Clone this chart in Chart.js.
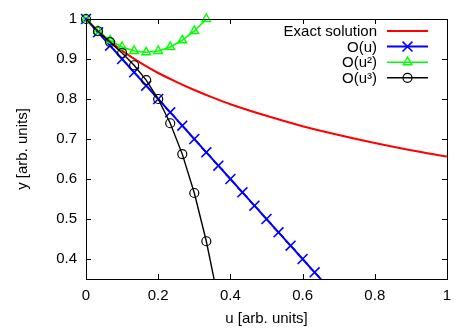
<!DOCTYPE html>
<html lang="en">
<head>
    <meta charset="UTF-8">
    <title>Perturbation series</title>
    <script src="https://cdn.jsdelivr.net/npm/chart.js"></script>
    <style>
        html, body { margin: 0; padding: 0; background: #fff; }
    </style>
</head>
<body>
    <canvas id="grafico" width="471" height="330"></canvas>

    <script>
        // exact solution
        const exactU = [0, 0.05, 0.1, 0.15, 0.2, 0.25, 0.3, 0.35, 0.4, 0.5, 0.6, 0.7, 0.8, 0.9, 1.0];
        const exactY = [1, 0.956, 0.921, 0.891, 0.865, 0.843, 0.8225, 0.804, 0.787, 0.758, 0.732, 0.710, 0.690, 0.672, 0.656];

        // series orders, markers every 1/30
        const markU = [0, 0.0333, 0.0667, 0.1, 0.1333, 0.1667, 0.2, 0.2333, 0.2667, 0.3, 0.3333,
                       0.3667, 0.4, 0.4333, 0.4667, 0.5, 0.5333, 0.5667, 0.6, 0.6333, 0.6667];
        const linY = [1, 0.9667, 0.9333, 0.9, 0.8667, 0.8333, 0.8, 0.7667, 0.7333, 0.7, 0.6667,
                      0.6333, 0.6, 0.5667, 0.5333, 0.5, 0.4667, 0.4333, 0.4, 0.3667, 0.3333];
        const quadY = [1, 0.97, 0.9467, 0.93, 0.92, 0.9167, 0.92, 0.93, 0.9467, 0.97, 1];
        const cubY = [1, 0.9694, 0.9422, 0.915, 0.8844, 0.8472, 0.8, 0.7394, 0.6622, 0.565, 0.4444, 0.2972];

        const xTicks = [0, 0.2, 0.4, 0.6, 0.8, 1];
        const yTicks = [0.4, 0.5, 0.6, 0.7, 0.8, 0.9, 1];
        const labels = ['Exact solution', 'O(u)', 'O(u²)', 'O(u³)'];

        const FONT = 'Liberation Sans';
        const pts = (xs, ys) => ys.map((y, i) => ({ x: xs[i], y: y }));
        const clipBox = { left: 8, top: 8, right: 8, bottom: 0 };

        function drawMarker(ctx, style, x, y, r) {
            ctx.beginPath();
            if (style === 'crossRot') {
                const d = r * 0.707;
                ctx.moveTo(x - d, y - d); ctx.lineTo(x + d, y + d);
                ctx.moveTo(x - d, y + d); ctx.lineTo(x + d, y - d);
            } else if (style === 'triangle') {
                const w = r * 0.866;
                ctx.moveTo(x, y - r); ctx.lineTo(x + w, y + r / 2); ctx.lineTo(x - w, y + r / 2); ctx.closePath();
            } else if (style === 'circle') {
                ctx.arc(x, y, r, 0, Math.PI * 2);
            }
            ctx.stroke();
        }

        // inward ticks on all four sides, frame and legend inside the plot
        const cornice = {
            id: 'cornice',
            afterDraw(chart) {
                const ctx = chart.ctx;
                const a = chart.chartArea;
                const xs = chart.scales.x, ys = chart.scales.y;
                ctx.save();
                ctx.strokeStyle = '#000';
                ctx.lineWidth = 1;
                ctx.beginPath();
                xTicks.forEach(v => {
                    const px = Math.round(xs.getPixelForValue(v)) + 0.5;
                    ctx.moveTo(px, a.bottom); ctx.lineTo(px, a.bottom - 5);
                    ctx.moveTo(px, a.top); ctx.lineTo(px, a.top + 5);
                });
                yTicks.forEach(v => {
                    const py = Math.round(ys.getPixelForValue(v)) + 0.5;
                    ctx.moveTo(a.left, py); ctx.lineTo(a.left + 5, py);
                    ctx.moveTo(a.right, py); ctx.lineTo(a.right - 5, py);
                });
                ctx.stroke();
                ctx.strokeRect(Math.round(a.left) + 0.5, Math.round(a.top) + 0.5,
                               Math.round(a.right - a.left), Math.round(a.bottom - a.top));

                // legend
                ctx.font = '15px "' + FONT + '"';
                ctx.textAlign = 'right';
                ctx.textBaseline = 'middle';
                chart.data.datasets.forEach((ds, i) => {
                    const y = 31 + i * 15.6;
                    ctx.fillStyle = '#000';
                    ctx.fillText(labels[i], 377, y + 1);
                    ctx.strokeStyle = ds.borderColor;
                    ctx.lineWidth = ds.borderWidth;
                    ctx.beginPath();
                    ctx.moveTo(387, y); ctx.lineTo(428, y);
                    ctx.stroke();
                    if (ds.pointStyle && ds.pointRadius > 0) {
                        ctx.lineWidth = ds.pointBorderWidth;
                        drawMarker(ctx, ds.pointStyle, 407.5, y, ds.pointRadius);
                    }
                });
                ctx.restore();
            }
        };

        const ctx = document.getElementById('grafico').getContext('2d');
        const chart = new Chart(ctx, {
            type: 'line',
            data: {
                datasets: [{
                    label: labels[0],
                    data: pts(exactU, exactY),
                    borderColor: '#ff0000',
                    borderWidth: 2,
                    pointRadius: 0,
                    cubicInterpolationMode: 'monotone',
                    order: 3,
                    clip: clipBox
                }, {
                    label: labels[1],
                    data: pts(markU, linY),
                    borderColor: '#0000ff',
                    borderWidth: 2,
                    pointStyle: 'crossRot',
                    pointRadius: 7,
                    pointBorderWidth: 1.6,
                    pointBorderColor: '#0000ff',
                    pointBackgroundColor: 'transparent',
                    tension: 0,
                    order: 2,
                    clip: clipBox
                }, {
                    label: labels[2],
                    data: pts(markU, quadY),
                    borderColor: '#00ff00',
                    borderWidth: 1.6,
                    pointStyle: 'triangle',
                    pointRadius: 5,
                    pointBorderWidth: 1.4,
                    pointBorderColor: '#00ff00',
                    pointBackgroundColor: 'transparent',
                    tension: 0,
                    order: 1,
                    clip: clipBox
                }, {
                    label: labels[3],
                    data: pts(markU, cubY),
                    borderColor: '#000000',
                    borderWidth: 1.4,
                    pointStyle: 'circle',
                    pointRadius: 4.5,
                    pointBorderWidth: 1.2,
                    pointBorderColor: '#000000',
                    pointBackgroundColor: 'transparent',
                    tension: 0,
                    order: 0,
                    clip: clipBox
                }]
            },
            options: {
                responsive: false,
                animation: false,
                devicePixelRatio: 1,
                layout: { padding: { top: 19, right: 24, bottom: 0, left: 0 } },
                plugins: { legend: { display: false }, tooltip: { enabled: false } },
                scales: {
                    x: {
                        type: 'linear',
                        min: 0,
                        max: 1,
                        grid: { display: false, drawTicks: false },
                        border: { display: false },
                        afterFit(s) { s.height = 51; },
                        afterBuildTicks(s) { s.ticks = xTicks.map(v => ({ value: v })); },
                        ticks: {
                            padding: 8,
                            color: '#000',
                            font: { family: FONT, size: 15 },
                            maxRotation: 0,
                            callback: v => String(v)
                        },
                        title: {
                            display: true,
                            text: 'u [arb. units]',
                            color: '#000',
                            font: { family: FONT, size: 15 },
                            padding: { top: 0, bottom: 2 }
                        }
                    },
                    y: {
                        type: 'linear',
                        min: 0.35,
                        max: 1,
                        grid: { display: false, drawTicks: false },
                        border: { display: false },
                        afterFit(s) { s.width = 86; },
                        afterBuildTicks(s) { s.ticks = yTicks.map(v => ({ value: v })); },
                        ticks: {
                            padding: 9,
                            color: '#000',
                            font: { family: FONT, size: 15 },
                            callback: v => String(v)
                        },
                        title: {
                            display: true,
                            text: 'y [arb. units]',
                            color: '#000',
                            font: { family: FONT, size: 15 },
                            padding: { top: 14, bottom: 0 }
                        }
                    }
                }
            },
            plugins: [cornice]
        });
    </script>
</body>
</html>
